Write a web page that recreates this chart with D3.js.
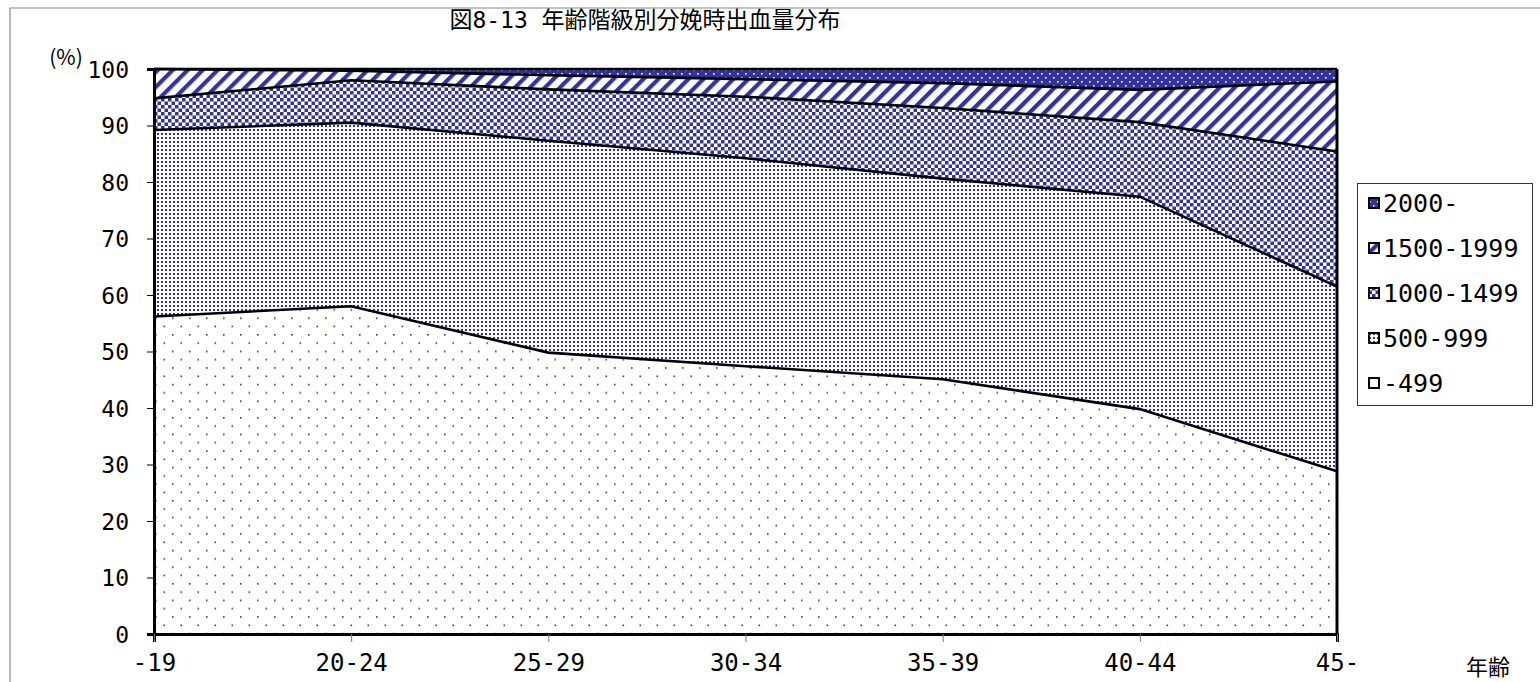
<!DOCTYPE html>
<html><head><meta charset="utf-8">
<script src="https://cdn.jsdelivr.net/npm/d3@7"></script>
<style>html,body{margin:0;padding:0;background:#fff;}svg{display:block;}</style>
</head><body>
<svg id="c" width="1540" height="682"></svg>
<script>
const categories = ["-19","20-24","25-29","30-34","35-39","40-44","45-"];
const seriesNames = ["-499","500-999","1000-1499","1500-1999","2000-"];
const v499  = [56.2, 58.0, 49.8, 47.4, 45.1, 39.8, 28.8];
const v999  = [33.0, 32.5, 37.5, 36.8, 35.5, 37.6, 32.7];
const v1499 = [5.6, 7.5, 9.1, 10.9, 12.5, 13.2, 23.9];
const v1999 = [5.2, 1.7, 2.5, 3.1, 4.4, 5.7, 12.4];
const v2000 = [0.0, 0.3, 1.1, 1.8, 2.5, 3.7, 2.2];
const yTicks = [0,10,20,30,40,50,60,70,80,90,100];
const title = "図8-13 年齢階級別分娩時出血量分布";

const seriesVals = [v499, v999, v1499, v1999, v2000];
const rows = categories.map((c,i)=>{const r={cat:c}; seriesNames.forEach((s,k)=>r[s]=seriesVals[k][i]); return r;});

const NAVY = "#333399";
const FONT = "'DejaVu Sans Mono','Noto Sans CJK JP',monospace";
const svg = d3.select("#c");

const defs = svg.append("defs");
function pat(id,w,h,fn,transform){
  const p = defs.append("pattern").attr("id",id).attr("patternUnits","userSpaceOnUse").attr("width",w).attr("height",h);
  if(transform) p.attr("patternTransform",transform);
  fn(p); return p;
}
pat("p0",17,16.6,p=>{
  p.append("rect").attr("width",17).attr("height",16.6).attr("fill","#fff");
  p.append("rect").attr("x",2).attr("y",2).attr("width",1.6).attr("height",1.6).attr("fill",NAVY);
  p.append("rect").attr("x",10.5).attr("y",10.3).attr("width",1.6).attr("height",1.6).attr("fill",NAVY);
});
pat("p1",4,4,p=>{
  p.append("rect").attr("width",4).attr("height",4).attr("fill","#fff");
  p.append("rect").attr("x",1).attr("y",1).attr("width",2).attr("height",2).attr("fill",NAVY);
});
pat("p2",7,7,p=>{
  p.append("rect").attr("width",7).attr("height",7).attr("fill","#fff");
  p.append("rect").attr("width",3.5).attr("height",3.5).attr("fill",NAVY);
  p.append("rect").attr("x",3.5).attr("y",3.5).attr("width",3.5).attr("height",3.5).attr("fill",NAVY);
});
pat("p3",10.6,10.6,p=>{
  p.append("rect").attr("width",10.6).attr("height",10.6).attr("fill","#fff");
  p.append("rect").attr("width",4.2).attr("height",10.6).attr("fill",NAVY);
},"rotate(45)");
pat("p4",8,8,p=>{
  p.append("rect").attr("width",8).attr("height",8).attr("fill",NAVY);
  p.append("rect").attr("x",1).attr("y",1).attr("width",1.6).attr("height",1.6).attr("fill","#fff");
  p.append("rect").attr("x",5).attr("y",5).attr("width",1.6).attr("height",1.6).attr("fill","#fff");
});
const fills = ["url(#p0)","url(#p1)","url(#p2)","url(#p3)","url(#p4)"];

svg.append("path").attr("d","M10,682 V8 H1540").attr("fill","none").attr("stroke","#888").attr("stroke-width",1.2);

const L=154, R=1337, T=69, B=634;
const x = d3.scalePoint().domain(categories).range([L,R]);
const y = d3.scaleLinear().domain([0,100]).range([B,T]);

const stack = d3.stack().keys(seriesNames)(rows);
const area = d3.area().x(d=>x(d.data.cat)).y0(d=>y(d[0])).y1(d=>y(d[1]));
const line = d3.line().x(d=>x(d.data.cat)).y(d=>y(d[1]));

svg.append("g").selectAll("path").data(stack).join("path")
  .attr("d",area).attr("fill",(d,i)=>fills[i]);
svg.append("g").selectAll("path").data(stack).join("path")
  .attr("d",line).attr("fill","none").attr("stroke","#000").attr("stroke-width",2.6);

svg.append("line").attr("x1",R).attr("x2",R).attr("y1",T).attr("y2",B).attr("stroke","#000").attr("stroke-width",3);

const yAxis = svg.append("g").attr("transform",`translate(${L},0)`)
  .call(d3.axisLeft(y).tickValues(yTicks).tickSize(7).tickPadding(18));
yAxis.select(".domain").attr("stroke","#000").attr("stroke-width",3);
yAxis.selectAll(".tick line").attr("stroke","#000").attr("stroke-width",1);
yAxis.selectAll(".tick text").attr("font-family",FONT).attr("font-size",23).attr("fill","#000").attr("dy","0.35em");

const xAxis = svg.append("g").attr("transform",`translate(0,${B})`)
  .call(d3.axisBottom(x).tickSize(8).tickPadding(12));
xAxis.select(".domain").attr("stroke","#000").attr("stroke-width",3);
xAxis.selectAll(".tick line").attr("stroke","#777").attr("stroke-width",1);
xAxis.selectAll(".tick text").attr("font-family",FONT).attr("font-size",24).attr("fill","#000");

svg.append("text").attr("x",66).attr("y",65).attr("text-anchor","middle")
  .attr("font-family","'Noto Sans CJK JP',sans-serif").attr("font-size",21).text("(%)");
svg.append("text").attr("x",1488).attr("y",675).attr("text-anchor","middle")
  .attr("font-family","'Noto Sans CJK JP',sans-serif").attr("font-size",22).text("年齢");
svg.append("text").attr("x",645).attr("y",28).attr("text-anchor","middle")
  .attr("font-family",FONT).attr("font-size",23).text(title);

const lg = svg.append("g");
lg.append("rect").attr("x",1357.5).attr("y",183.5).attr("width",175).attr("height",222)
  .attr("fill","#fff").attr("stroke","#333").attr("stroke-width",1);
const legendOrder = [4,3,2,1,0];
legendOrder.forEach((k,i)=>{
  const cy = 203 + i*45;
  lg.append("rect").attr("x",1369).attr("y",cy-5).attr("width",10).attr("height",10)
    .attr("fill",fills[k]).attr("stroke","#000").attr("stroke-width",2);
  lg.append("text").attr("x",1383).attr("y",cy).attr("dy","0.36em")
    .attr("font-family",FONT).attr("font-size",25).text(seriesNames[k]);
});
</script>
</body></html>
